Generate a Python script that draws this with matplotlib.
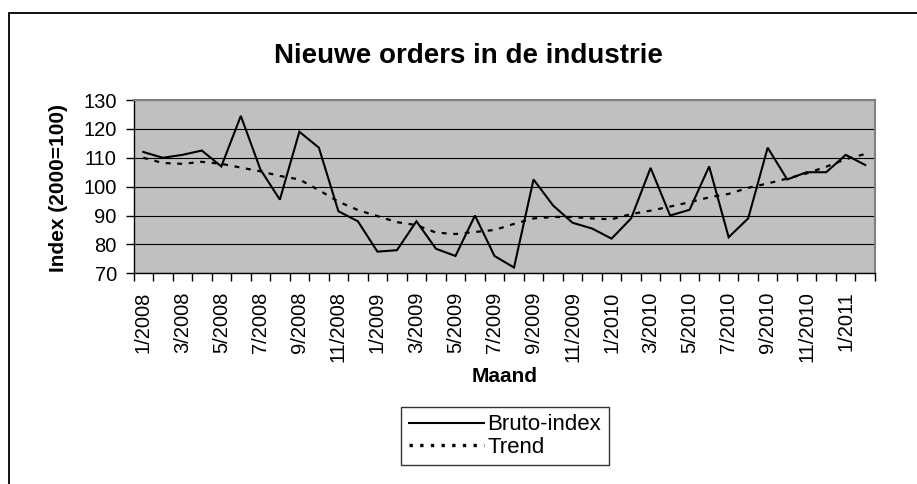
import matplotlib

matplotlib.use("Agg")
import matplotlib.pyplot as plt
from matplotlib.lines import Line2D
from matplotlib.patches import Rectangle

plt.rcParams["font.family"] = ["Liberation Sans", "DejaVu Sans"]

MONTHS = [f"{m}/{y}" for y in (2008, 2009, 2010) for m in range(1, 13)] + ["1/2011", "2/2011"]

BRUTO = [112, 110, 111, 112.5, 107, 124.5, 106, 95.5, 119, 113.5, 91.5, 88, 77.5,
         78, 88, 78.5, 76, 90, 76, 72, 102.5, 93.5, 87.5, 85.5, 82, 89, 106.5,
         90, 92, 107, 82.5, 89, 113.5, 102.5, 105, 105, 111, 107.5]
TREND = [110, 108.2, 107.9, 108.6, 107.9, 106.6, 105.3, 103.7, 102.5, 98.8, 94.8,
         91.9, 89.8, 87.7, 86.7, 84.1, 83.6, 84.3, 85.0, 87.1, 89.0, 89.5, 89.5,
         89.0, 88.7, 90.5, 91.7, 93.1, 94.6, 96.3, 97.5, 99.6, 101.1, 102.8,
         104.6, 106.9, 109.5, 111.3]

YTICKS = [70, 80, 90, 100, 110, 120, 130]

W, H = 917, 484
fig = plt.figure(figsize=(W / 100, H / 100), dpi=100)
fig.patch.set_facecolor("white")

# outer chart border (right and bottom edges fall outside the image)
fig.patches.append(Rectangle((9 / W, -0.1), 1.1, 1 - 13 / H + 0.1, transform=fig.transFigure,
                             fill=False, edgecolor="black", linewidth=1.3))

ax = fig.add_axes([133.5 / W, 1 - 273.3 / H, (875 - 133.5) / W, (273.3 - 100) / H])
ax.set_facecolor("#C0C0C0")
xs = list(range(len(MONTHS)))

ax.plot(xs, BRUTO, color="black", linewidth=1.5, solid_joinstyle="miter")
ax.plot(xs, TREND, color="black", linewidth=1.6, linestyle=(0, (2.2, 3.0)))

ax.set_xlim(-0.5, len(MONTHS) - 0.5)
ax.set_ylim(YTICKS[0], YTICKS[-1])
ax.set_yticks(YTICKS)
ax.grid(axis="y", color="black", linewidth=0.8)
ax.set_axisbelow(True)

# tick marks at category boundaries, labels at every other category centre
ax.set_xticks([x - 0.5 for x in xs] + [len(xs) - 0.5])
ax.set_xticklabels([])
ax.set_xticks(xs[::2], MONTHS[::2], minor=True)
ax.tick_params(axis="x", which="major", length=6, width=1, direction="out")
ax.tick_params(axis="x", which="minor", length=0, pad=13, labelsize=14.5, labelrotation=90)
ax.tick_params(axis="y", length=6, width=1, direction="out", pad=6, labelsize=14.5)

for spine in ax.spines.values():
    spine.set_color("#808080")
    spine.set_linewidth(1.5)
ax.spines["left"].set_color("black")
ax.spines["left"].set_linewidth(1)
ax.spines["bottom"].set_color("black")
ax.spines["bottom"].set_linewidth(1)

fig.text(468 / W, 1 - 56 / H, "Nieuwe orders in de industrie", ha="center", va="center",
         fontsize=20, fontweight="bold")
fig.text(58 / W, 1 - 188 / H, "Index (2000=100)", ha="center", va="center", rotation=90,
         fontsize=15, fontweight="bold")
fig.text(505 / W, 1 - 376 / H, "Maand", ha="center", va="center", fontsize=15,
         fontweight="bold")

handles = [
    Line2D([], [], color="black", linewidth=1.5),
    Line2D([], [], color="black", linewidth=2.4, linestyle=(0, (1, 2.2))),
]
leg = fig.legend(handles, ["Bruto-index", "Trend"], loc="center",
                 bbox_to_anchor=(505 / W, 1 - 436 / H), fontsize=16, frameon=True,
                 fancybox=False, handlelength=3.4, handletextpad=0.15, borderpad=0.35,
                 labelspacing=0.05, borderaxespad=0)
leg.get_frame().set_edgecolor("black")
leg.get_frame().set_linewidth(1)

fig.savefig("out.png", dpi=100)
